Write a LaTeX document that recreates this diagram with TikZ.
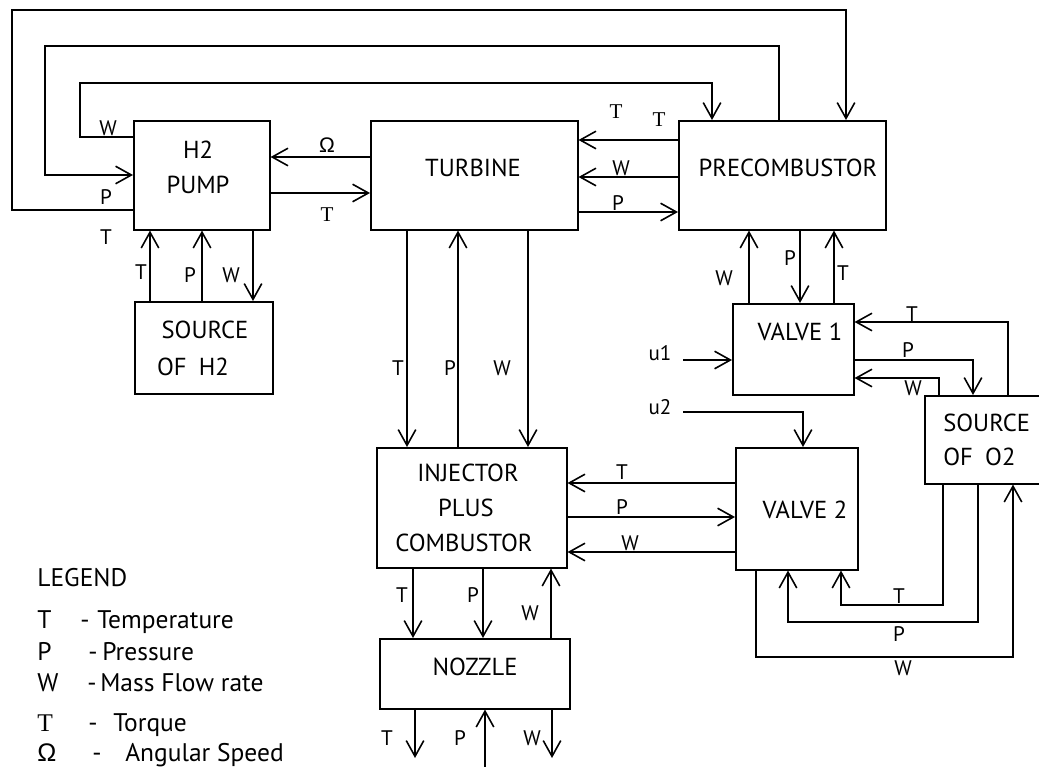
\documentclass[tikz,border=0pt]{standalone}
\usepackage{fontspec}
\setmainfont{PT Sans}
\newfontfamily\serifT{Liberation Serif}
\newfontfamily\grk{Liberation Sans}
\usetikzlibrary{arrows.meta}
\newcommand\tq{{\serifT T}}
\newcommand\omg{{\grk Ω}}
\begin{document}
\begin{tikzpicture}[x=0.02cm, y=-0.02cm,
  box/.style={draw, line width=0.9pt, inner sep=0pt, anchor=north west},
  btxt/.style={font=\fontsize{14}{16}\selectfont, inner sep=0pt},
  lab/.style={font=\fontsize{12}{14}\selectfont, inner sep=0pt},
  leg/.style={font=\fontsize{14.5}{16}\selectfont, inner sep=0pt, anchor=base west},
  sig/.style={line width=0.9pt, -{Straight Barb[length=9pt,width=10pt,line width=0.9pt]}}]
\useasboundingbox (0,0) rectangle (1039,767);

% boxes
\node[box, minimum width=2.72cm, minimum height=2.18cm] (pump) at (133,120) {};
\node[box, minimum width=4.14cm, minimum height=2.18cm] (tur)  at (370,120) {};
\node[box, minimum width=4.14cm, minimum height=2.18cm] (pre)  at (678,120) {};
\node[box, minimum width=2.76cm, minimum height=1.84cm] (srcH) at (134,301) {};
\node[box, minimum width=2.42cm, minimum height=1.82cm] (v1)   at (732,303) {};
\node[box, minimum width=2.80cm, minimum height=1.76cm] (srcO) at (924,395) {};
\node[box, minimum width=2.44cm, minimum height=2.44cm] (v2)   at (735,447) {};
\node[box, minimum width=3.80cm, minimum height=2.40cm] (inj)  at (376,447) {};
\node[box, minimum width=3.80cm, minimum height=1.40cm] (noz)  at (379,638) {};

% box texts
\node[btxt] (tpump1) at (198,150) {H2};
\node[btxt] (tpump2) at (198,185) {PUMP};
\node[btxt] (ttur) at (473,168) {TURBINE};
\node[btxt] (tpre) at (788,168) {PRECOMBUSTOR};
\node[btxt] (tsh1) at (205,330) {SOURCE};
\node[btxt] (tsh2) at (193,367) {OF\enspace H2};
\node[btxt] (tv1) at (800,332) {VALVE 1};
\node[btxt, anchor=west] (tso1) at (943,423) {SOURCE};
\node[btxt, anchor=west] (tso2) at (943,457) {OF\enspace O2};
\node[btxt] (tv2) at (805,510) {VALVE 2};
\node[btxt] (tinj1) at (468,473) {INJECTOR};
\node[btxt] (tinj2) at (466,508) {PLUS};
\node[btxt] (tinj3) at (464,543) {COMBUSTOR};
\node[btxt] (tnoz) at (475,667) {NOZZLE};

% top loops
\draw[sig] (pump.west |- 0,210) -- (12,210) -- (12,10) -- (846,10) -- (846,0 |- pre.north);
\node[lab] (l1) at (106,237) {T};
\draw[sig] (779,0 |- pre.north) -- (779,46) -- (45,46) -- (45,175) -- (pump.west |- 0,175);
\node[lab] (l2) at (106,197) {P};
\draw[sig] (pump.west |- 0,137) -- (80,137) -- (80,83) -- (712,83) -- (712,0 |- pre.north);
\node[lab] (l3) at (108,128) {W};

% pump <-> turbine
\draw[sig] (tur.west |- 0,157) -- (pump.east |- 0,157);
\node[lab] (l4) at (327,145) {\omg};
\draw[sig] (pump.east |- 0,193) -- (tur.west |- 0,193);
\node[lab] (l5) at (327,215) {\tq};

% turbine <-> precombustor
\draw[sig] (pre.west |- 0,140) -- (tur.east |- 0,140);
\node[lab] (l6) at (616,112) {\tq};
\node[lab] (l7) at (659,120) {\tq};
\draw[sig] (pre.west |- 0,177) -- (tur.east |- 0,177);
\node[lab] (l8) at (621,168) {W};
\draw[sig] (tur.east |- 0,212) -- (pre.west |- 0,212);
\node[lab] (l9) at (618,203) {P};

% pump <-> source H2
\draw[sig] (150,0 |- srcH.north) -- (150,0 |- pump.south);
\node[lab] (l10) at (141,272) {T};
\draw[sig] (202,0 |- srcH.north) -- (202,0 |- pump.south);
\node[lab] (l11) at (190,275) {P};
\draw[sig] (253,0 |- pump.south) -- (253,0 |- srcH.north);
\node[lab] (l12) at (231,275) {W};

% turbine <-> injector
\draw[sig] (407,0 |- tur.south) -- (407,0 |- inj.north);
\node[lab] (l13) at (398,368) {T};
\draw[sig] (458,0 |- inj.north) -- (458,0 |- tur.south);
\node[lab] (l14) at (450,368) {P};
\draw[sig] (528,0 |- tur.south) -- (528,0 |- inj.north);
\node[lab] (l15) at (502,368) {W};

% precombustor <-> valve 1
\draw[sig] (749,0 |- v1.north) -- (749,0 |- pre.south);
\node[lab] (l16) at (724,278) {W};
\draw[sig] (800,0 |- pre.south) -- (800,0 |- v1.north);
\node[lab] (l17) at (790,258) {P};
\draw[sig] (834,0 |- v1.north) -- (834,0 |- pre.south);
\node[lab] (l18) at (843,273) {T};

% valve 1 inputs
\coordinate (u1) at (683,360);
\draw[sig] (u1) -- (v1.west |- u1);
\node[lab] (lu1) at (660,353) {u1};
\draw[sig] (1008,0 |- srcO.north) -- (1008,322) -- (v1.east |- 0,322);
\node[lab] (l19) at (912,314) {T};
\draw[sig] (v1.east |- 0,360) -- (973,360) -- (973,0 |- srcO.north);
\node[lab] (l20) at (908,350) {P};
\draw[sig] (939,0 |- srcO.north) -- (939,378) -- (v1.east |- 0,378);
\node[lab] (l21) at (913,388) {W};

% u2
\coordinate (u2) at (683,412);
\draw[sig] (u2) -- (803,412) -- (803,0 |- v2.north);
\node[lab] (lu2) at (660,407) {u2};

% injector <-> valve 2
\draw[sig] (v2.west |- 0,483) -- (inj.east |- 0,483);
\node[lab] (l22) at (622,472) {T};
\draw[sig] (inj.east |- 0,517) -- (v2.west |- 0,517);
\node[lab] (l23) at (622,507) {P};
\draw[sig] (v2.west |- 0,552) -- (inj.east |- 0,552);
\node[lab] (l24) at (630,543) {W};

% valve 2 <-> source O2
\draw[sig] (943,0 |- srcO.south) -- (943,605) -- (841,605) -- (841,0 |- v2.south);
\node[lab] (l25) at (899,596) {T};
\draw[sig] (978,0 |- srcO.south) -- (978,622) -- (788,622) -- (788,0 |- v2.south);
\node[lab] (l26) at (899,634) {P};
\draw[sig] (756,0 |- v2.south) -- (756,657) -- (1013,657) -- (1013,0 |- srcO.south);
\node[lab] (l27) at (903,668) {W};

% injector <-> nozzle
\draw[sig] (413,0 |- inj.south) -- (413,0 |- noz.north);
\node[lab] (l28) at (402,595) {T};
\draw[sig] (483,0 |- inj.south) -- (483,0 |- noz.north);
\node[lab] (l29) at (473,595) {P};
\draw[sig] (551,0 |- noz.north) -- (551,0 |- inj.south);
\node[lab] (l30) at (530,613) {W};

% nozzle outputs
\coordinate (oT) at (415,758);
\coordinate (oP) at (485,767);
\coordinate (oW) at (552,758);
\draw[sig] (415,0 |- noz.south) -- (oT);
\node[lab] (l31) at (387,738) {T};
\draw[sig] (oP) -- (485,0 |- noz.south);
\node[lab] (l32) at (460,738) {P};
\draw[sig] (552,0 |- noz.south) -- (oW);
\node[lab] (l33) at (532,738) {W};

% legend
\node[leg] (lg0) at (37,586) {LEGEND};
\node[leg] (lg1) at (37,628) {\makebox[8.6mm][l]{T}\makebox[3.4mm][l]{-}Temperature};
\node[leg] (lg2) at (37,660) {\makebox[10.2mm][l]{P}\makebox[2.8mm][l]{-}Pressure};
\node[leg] (lg3) at (37,691) {\makebox[10mm][l]{W}\makebox[2.6mm][l]{-}Mass Flow rate};
\node[leg] (lg4) at (37,731) {\makebox[10.2mm][l]{\tq}\makebox[5mm][l]{-}Torque};
\node[leg] (lg5) at (37,761) {\makebox[11mm][l]{\omg}\makebox[6.6mm][l]{-}Angular Speed};
\end{tikzpicture}
\end{document}
